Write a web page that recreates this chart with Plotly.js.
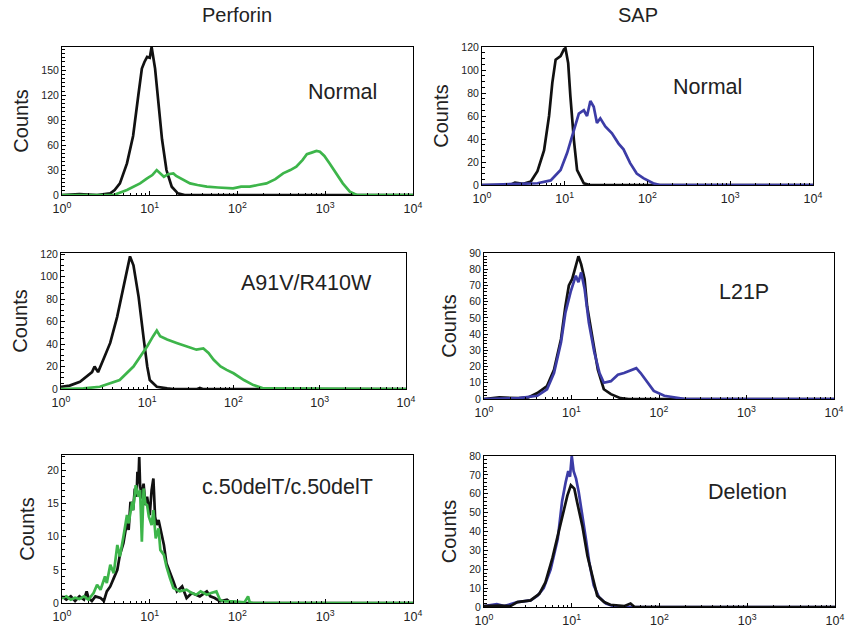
<!DOCTYPE html>
<html>
<head>
<meta charset="utf-8">
<script src="https://cdn.plot.ly/plotly-3.0.1.min.js"></script>
<style>html,body{margin:0;padding:0;background:#fff;}#chart{width:848px;height:628px;}</style>
</head>
<body>
<div id="chart"></div>
<script>
// ---------- data ----------
const columnTitles = ["Perforin", "SAP"];
const panelLabels = ["Normal", "Normal", "A91V/R410W", "L21P", "c.50delT/c.50delT", "Deletion"];
const xTickVals = [1, 10, 100, 1000, 10000];
const xTickText = ["10<sup>0</sup>", "10<sup>1</sup>", "10<sup>2</sup>", "10<sup>3</sup>", "10<sup>4</sup>"];

// Panel 1: Perforin, Normal
const p1CtrlX = [1, 1.58, 2.51, 3.55, 3.98, 4.57, 5.5, 6.46, 7.41, 8.13, 8.7, 9.33, 10.0, 10.5, 11.5, 12.6, 13.8, 15.5, 17.8, 20.9, 25, 10000];
const p1CtrlY = [0, 1, 0, 2, 6, 14, 38, 71, 120, 152, 160, 166, 165, 178, 152, 107, 67, 30, 10, 2, 0, 0];
const p1StainX = [1, 3.89, 5.5, 7.76, 9.33, 10.7, 12.0, 13.2, 14.5, 16.2, 18.6, 20, 22.4, 25, 28.8, 35, 44.7, 60, 89.1, 110, 138, 170, 214, 270, 331, 400, 468, 550, 617, 700, 794, 870, 977, 1122, 1349, 1585, 1905, 2291, 10000];
const p1StainY = [0, 0, 6, 14, 20, 24, 30, 26, 22, 25, 26, 23, 20, 17, 14, 12, 10, 9, 8, 10, 10, 12, 14, 19, 26, 30, 34, 42, 49, 51, 53, 52, 47, 38, 26, 14, 4, 0, 0];

// Panel 2: SAP, Normal
const p2CtrlX = [1, 2.19, 2.5, 3.16, 3.89, 4.68, 5.62, 6.46, 7.08, 7.76, 8.91, 9.77, 10.2, 11.0, 11.7, 12.9, 14.1, 17.0, 20, 10000];
const p2CtrlY = [0, 0, 2, 1, 3, 12, 30, 60, 89, 109, 112, 118, 119, 106, 77, 39, 13, 1.5, 0, 0];
const p2StainX = [1, 3.16, 4.68, 6.76, 8.91, 10.7, 12.9, 14.8, 17.0, 18.6, 20.4, 22.4, 24.5, 26.9, 30.9, 37.2, 44.7, 51.3, 61.7, 74.1, 89.1, 117, 141, 10000];
const p2StainY = [0, 1, 1.5, 4, 13, 28, 48, 62, 65, 60, 73, 68, 54, 58, 51, 45, 36, 31, 19, 10, 6, 1.5, 0, 0];

// Panel 3: Perforin, A91V/R410W
const p3CtrlX = [1, 1.26, 1.66, 2.0, 2.29, 2.45, 2.69, 3.09, 3.72, 4.47, 5.25, 6.03, 6.31, 6.92, 7.94, 9.12, 10, 10.7, 12.9, 17.0, 20, 38, 40.7, 44, 10000];
const p3CtrlY = [2, 3, 6.5, 11, 15, 20, 15, 26, 41, 64, 88, 110, 118, 110, 82, 44, 20, 8, 2, 0.5, 0, 0, 1, 0, 0];
const p3StainX = [1, 1.82, 2.82, 4.79, 6.92, 8.32, 10, 11.7, 12.9, 14.1, 17.0, 21.9, 28.8, 37.2, 44.7, 51.3, 58.9, 70.8, 83.2, 100, 132, 170, 224, 10000];
const p3StainY = [0, 0.5, 2, 8, 20, 29, 38, 47, 52, 47, 44, 41, 38, 35, 36, 32, 26, 20, 17, 14, 8, 3.5, 0.5, 0];

// Panel 4: SAP, L21P
const p4CtrlX = [1, 1.5, 2.5, 3.2, 4.07, 5.25, 6.31, 7.59, 8.51, 9.33, 10.2, 11.2, 12.0, 12.9, 14.1, 15.1, 17.4, 20.0, 23.4, 28.2, 36.3, 45, 10000];
const p4CtrlY = [0, 1, 0.5, 1, 3.7, 8, 18, 37, 57, 70, 74, 82, 88, 83, 74, 57, 37, 18, 6, 3, 0.5, 0, 0];
const p4StainX = [1, 2.5, 4.07, 5.25, 6.31, 7.59, 8.51, 9.77, 11.2, 12.0, 12.9, 14.1, 15.8, 18.2, 20.9, 23.4, 28.2, 33.9, 39.8, 47.9, 55.0, 61.7, 74.1, 87.1, 115, 162, 200, 10000];
const p4StainY = [0, 0.5, 2, 6, 16, 35, 53, 66, 76, 72, 78, 68, 47, 29, 16, 10, 11, 15, 16, 18, 19, 16, 10, 5, 2, 0.5, 0, 0];

// Panel 5: Perforin, c.50delT/c.50delT
const p5CtrlX = [1, 1.12, 1.26, 1.41, 1.58, 1.78, 1.91, 2.0, 2.19, 2.4, 2.75, 3.0, 3.24, 3.55, 3.89, 4.27, 4.57, 5.01, 5.5, 5.75, 6.03, 6.46, 6.76, 7.08, 7.24, 7.41, 7.59, 7.76, 8.13, 8.51, 8.91, 9.33, 10, 10.5, 11.0, 11.5, 12.0, 12.6, 13.2, 14.5, 15.5, 17.0, 18.6, 20.4, 23.4, 26.3, 30.2, 37.2, 44.7, 49.0, 55, 63.1, 75.9, 85, 10000];
const p5CtrlY = [1, 0.5, 1, 0.3, 1, 0.5, 1.75, 0.8, 0.3, 1, 0.75, 0.3, 1.75, 2.5, 3.75, 5, 7.25, 9, 12.25, 11, 15.25, 14, 17.25, 16, 19.75, 18, 22, 17.75, 15.75, 18, 14.75, 16, 13.25, 17, 18.75, 13, 11.75, 12.5, 11.25, 8.75, 6, 4.75, 3.25, 1.75, 2.5, 0.75, 1.5, 1, 1.75, 1, 0.75, 0.25, 0.5, 0, 0];
const p5StainX = [1, 1.12, 1.26, 1.41, 1.58, 1.78, 2.0, 2.29, 2.51, 2.75, 3.09, 3.24, 3.55, 3.89, 4.27, 4.57, 5.01, 5.5, 5.75, 6.31, 6.46, 6.92, 7.41, 7.76, 8.13, 8.51, 8.91, 9.33, 9.77, 10.5, 11.0, 11.7, 12.6, 13.2, 14.5, 15.5, 17.0, 18.6, 21.9, 26.3, 30.2, 33.9, 38, 44.7, 50, 57.5, 63, 69.2, 89.1, 120, 132, 138, 151, 10000];
const p5StainY = [0.7, 1, 0.5, 0.8, 0.6, 1, 0.5, 1.5, 2.75, 2, 4, 3, 5.75, 4.5, 8.75, 7, 10, 13.25, 12, 15.25, 14, 17.75, 16, 17, 9.25, 17.25, 15, 14.75, 13, 11.75, 14, 9.75, 11.25, 8, 7.25, 5.5, 3.75, 2.25, 1.75, 2, 1.5, 1.25, 1.75, 1.25, 1.5, 1.75, 0.5, 0.25, 0.25, 0.1, 1, 0.1, 0, 0];

// Panel 6: SAP, Deletion
const p6CtrlX = [1, 1.5, 2.0, 2.4, 3.39, 4.27, 5.01, 6.03, 7.24, 8.13, 8.91, 9.77, 10.7, 11.5, 13.2, 15.1, 17.4, 19.5, 23.4, 27.5, 40, 46.8, 52, 10000];
const p6CtrlY = [0.5, 0.8, 0.5, 2.6, 3.5, 7, 13, 26, 41.5, 52, 59, 64.5, 62.7, 55.6, 43, 27, 15, 6, 2.6, 1.2, 0.5, 1.8, 0, 0];
const p6StainX = [1, 1.2, 1.4, 1.7, 2.4, 3.39, 4.07, 4.79, 5.75, 6.92, 7.76, 8.51, 9.12, 9.55, 10.0, 10.5, 11.2, 12.0, 13.2, 14.5, 15.8, 17.8, 20.4, 24.5, 30.2, 35, 10000];
const p6StainY = [0.5, 1, 1.5, 0.5, 2.6, 3.5, 6, 10, 20, 36, 56, 66, 72, 69, 80, 72, 68, 61, 47, 36, 24, 11.5, 5.3, 1.8, 0.4, 0, 0];

const yMax = [178, 120, 121, 90, 22.3, 80];
const yDtick = [30, 20, 20, 10, 5, 10];

// ---------- styling ----------
const BLACK = "#111111";
const GREEN = "#3db54a";
const BLUE = "#3c3ca6";
const FONT = "Liberation Sans, Arial, sans-serif";

const W = 848, H = 628;
// plot boxes in pixels [left, right, top, bottom]
const boxes = [
  [62, 413, 47, 195],
  [482, 813, 47, 185],
  [61, 406, 253, 389],
  [484, 834, 253, 399],
  [62, 413, 455, 603],
  [484, 835, 456, 607]
];

function tr(x, y, color, i) {
  const s = i === 0 ? "" : String(i + 1);
  return {x: x, y: y, type: "scatter", mode: "lines", xaxis: "x" + s, yaxis: "y" + s,
    line: {color: color, width: 2.7, shape: "linear"}, hoverinfo: "skip", showlegend: false};
}

const traces = [
  tr(p1CtrlX, p1CtrlY, BLACK, 0), tr(p1StainX, p1StainY, GREEN, 0),
  tr(p2CtrlX, p2CtrlY, BLACK, 1), tr(p2StainX, p2StainY, BLUE, 1),
  tr(p3CtrlX, p3CtrlY, BLACK, 2), tr(p3StainX, p3StainY, GREEN, 2),
  tr(p4CtrlX, p4CtrlY, BLACK, 3), tr(p4StainX, p4StainY, BLUE, 3),
  tr(p5CtrlX, p5CtrlY, BLACK, 4), tr(p5StainX, p5StainY, GREEN, 4),
  tr(p6StainX, p6StainY, BLUE, 5), tr(p6CtrlX, p6CtrlY, BLACK, 5)
];

const layout = {
  width: W, height: H,
  margin: {l: 0, r: 0, t: 0, b: 0},
  paper_bgcolor: "#ffffff", plot_bgcolor: "#ffffff",
  font: {family: FONT, color: "#222222", size: 12},
  showlegend: false,
  annotations: []
};

const minorLog = [2,3,4,5,6,7,8,9,20,30,40,50,60,70,80,90,200,300,400,500,600,700,800,900,2000,3000,4000,5000,6000,7000,8000,9000];

boxes.forEach((b, i) => {
  const s = i === 0 ? "" : String(i + 1);
  layout["xaxis" + s] = {
    type: "log", range: [0, 4], domain: [b[0] / W, b[1] / W], anchor: "y" + s,
    tickvals: xTickVals, ticktext: xTickText,
    ticks: "inside", ticklen: 4, tickcolor: "#000", tickwidth: 1, ticklabelstandoff: 2,
    minor: {ticks: "inside", ticklen: 2.5, tickcolor: "#000", tickvals: minorLog},
    showline: true, linecolor: "#000", linewidth: 1, mirror: true,
    showgrid: false, zeroline: false, fixedrange: true,
    tickfont: {family: FONT, size: 12.5, color: "#222"}
  };
  layout["yaxis" + s] = {
    range: [0, yMax[i]], domain: [1 - b[3] / H, 1 - b[2] / H], anchor: "x" + s,
    dtick: yDtick[i], tick0: 0,
    ticks: "inside", ticklen: 4, tickcolor: "#000", tickwidth: 1,
    minor: {ticks: "inside", ticklen: 2.5, tickcolor: "#000", nticks: 6},
    showline: true, linecolor: "#000", linewidth: 1, mirror: true,
    showgrid: false, zeroline: false, fixedrange: true,
    tickfont: {family: FONT, size: 10.5, color: "#222"},
    title: {text: "Counts", font: {family: FONT, size: 20, color: "#222"}, standoff: 7}
  };
  layout.annotations.push({
    text: panelLabels[i], xref: "paper", yref: "paper",
    x: [342, 707, 306, 744, 287, 747][i] / W, y: 1 - [92, 87, 283, 292, 487, 492][i] / H,
    xanchor: "center", yanchor: "middle", showarrow: false,
    font: {family: FONT, size: 21.5, color: "#222"}
  });
});

layout.annotations.push(
  {text: columnTitles[0], xref: "paper", yref: "paper", x: 237 / W, y: 1 - 15 / H, xanchor: "center", yanchor: "middle", showarrow: false, font: {family: FONT, size: 20, color: "#222"}},
  {text: columnTitles[1], xref: "paper", yref: "paper", x: 638 / W, y: 1 - 15 / H, xanchor: "center", yanchor: "middle", showarrow: false, font: {family: FONT, size: 20, color: "#222"}}
);

Plotly.newPlot("chart", traces, layout, {displayModeBar: false, staticPlot: true});
</script>
</body>
</html>
